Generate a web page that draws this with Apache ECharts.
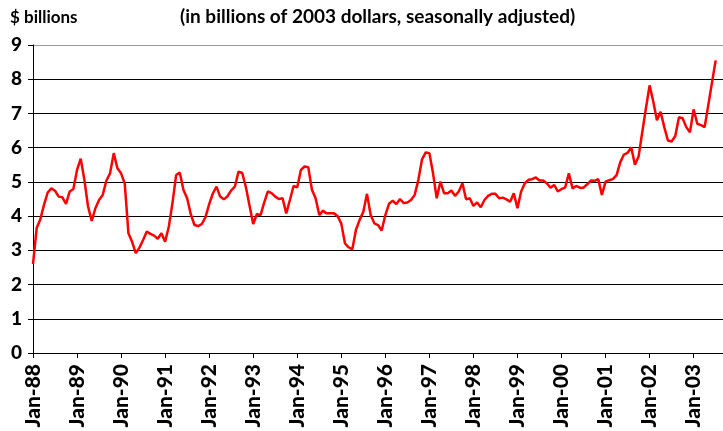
<!DOCTYPE html>
<html>
<head>
<meta charset="utf-8">
<script src="https://cdn.jsdelivr.net/npm/echarts@6/dist/echarts.min.js"></script>
<style>
  html, body { margin: 0; padding: 0; background: #fff; }
  #chart { width: 723px; height: 431px; }
</style>
</head>
<body>
<div id="chart"></div>
<script>
// tick labels / categories
const monthNames = ['Jan', 'Feb', 'Mar', 'Apr', 'May', 'Jun', 'Jul', 'Aug', 'Sep', 'Oct', 'Nov', 'Dec']
const yearLabels = ['88', '89', '90', '91', '92', '93', '94', '95', '96', '97', '98', '99', '00', '01', '02', '03']
const yTicks = [0, 1, 2, 3, 4, 5, 6, 7, 8, 9]

// monthly values, $ billions
const values1988to1991 = [
  2.60, 3.65, 3.91, 4.33, 4.69, 4.81, 4.74, 4.57, 4.55, 4.36, 4.72, 4.79,
  5.35, 5.68, 5.06, 4.28, 3.86, 4.23, 4.47, 4.62, 5.04, 5.25, 5.84, 5.40,
  5.25, 4.95, 3.50, 3.25, 2.92, 3.08, 3.30, 3.55, 3.48, 3.43, 3.34, 3.50,
  3.25, 3.69, 4.38, 5.20, 5.27, 4.76, 4.52, 4.05, 3.74, 3.71, 3.77, 3.97
]
const values1992to1995 = [
  4.35, 4.66, 4.86, 4.57, 4.49, 4.58, 4.75, 4.86, 5.30, 5.26, 4.85, 4.30,
  3.77, 4.06, 4.03, 4.40, 4.72, 4.67, 4.57, 4.50, 4.52, 4.08, 4.47, 4.88,
  4.84, 5.35, 5.45, 5.43, 4.77, 4.52, 4.03, 4.16, 4.08, 4.08, 4.08, 4.00,
  3.78, 3.20, 3.09, 3.03, 3.60, 3.89, 4.13, 4.65, 4.03, 3.79, 3.74, 3.58
]
const values1996to1999 = [
  4.03, 4.36, 4.45, 4.35, 4.50, 4.38, 4.40, 4.47, 4.62, 5.06, 5.66, 5.86,
  5.84, 5.25, 4.52, 5.01, 4.67, 4.67, 4.75, 4.59, 4.72, 4.96, 4.49, 4.52,
  4.30, 4.40, 4.26, 4.47, 4.59, 4.65, 4.65, 4.52, 4.54, 4.49, 4.42, 4.67,
  4.23, 4.72, 4.96, 5.06, 5.08, 5.13, 5.04, 5.04, 4.96, 4.83, 4.91, 4.72
]
const values2000to2003 = [
  4.79, 4.84, 5.25, 4.81, 4.88, 4.83, 4.83, 4.93, 5.04, 5.03, 5.08, 4.62,
  5.01, 5.05, 5.08, 5.20, 5.57, 5.80, 5.85, 6.01, 5.50, 5.74, 6.45, 7.15,
  7.82, 7.35, 6.80, 7.05, 6.60, 6.21, 6.18, 6.34, 6.89, 6.86, 6.60, 6.45,
  7.12, 6.70, 6.66, 6.60, 7.25, 7.90, 8.55
]

const values = [].concat(values1988to1991, values1992to1995, values1996to1999, values2000to2003)

// categories Jan-88 .. Sep-03 (axis runs a bit past the last point)
const categories = []
yearLabels.forEach(function(yr) {
  monthNames.forEach(function(m) {
    categories.push(m + '-' + yr)
  })
})
categories.length = 189

const labelFont = 'Lato, "Open Sans", sans-serif'

const chart = echarts.init(document.getElementById('chart'))
chart.setOption({
  animation: false,
  graphic: [
    {
      type: 'text',
      left: 10,
      top: 9,
      style: { text: '$ billions', font: 'bold 17px ' + labelFont, fill: '#000' }
    },
    {
      type: 'text',
      left: 180,
      top: 7,
      style: { text: '(in billions of 2003 dollars, seasonally adjusted)', font: 'bold 19px ' + labelFont, fill: '#000' }
    }
  ],
  grid: {
    left: 33,
    right: 0,
    top: 45,
    bottom: 78,
    containLabel: false
  },
  xAxis: {
    type: 'category',
    data: categories,
    boundaryGap: false,
    axisLine: { lineStyle: { color: '#000', width: 1 } },
    axisTick: {
      length: 5,
      lineStyle: { color: '#000' },
      interval: function(i) { return i % 12 === 0 }
    },
    axisLabel: {
      rotate: 90,
      margin: 11,
      color: '#000',
      fontFamily: labelFont,
      fontWeight: 900,
      fontSize: 21,
      interval: function(i) { return i % 12 === 0 }
    }
  },
  yAxis: {
    type: 'value',
    min: yTicks[0],
    max: yTicks[yTicks.length - 1],
    interval: 1,
    axisLine: { show: true, lineStyle: { color: '#000', width: 1 } },
    axisTick: { show: true, length: 5, lineStyle: { color: '#000' } },
    axisLabel: {
      margin: 11,
      color: '#000',
      fontFamily: labelFont,
      fontWeight: 900,
      fontSize: 19
    },
    splitLine: {
      show: true,
      lineStyle: {
        color: ['#000', '#000', '#000', '#000', '#000', '#000', '#000', '#000', '#000', '#999'],
        width: 1
      }
    }
  },
  series: [{
    type: 'line',
    data: values,
    showSymbol: false,
    symbol: 'none',
    lineStyle: { color: '#ff0000', width: 2.5 },
    itemStyle: { color: '#ff0000' }
  }]
})
</script>
</body>
</html>
